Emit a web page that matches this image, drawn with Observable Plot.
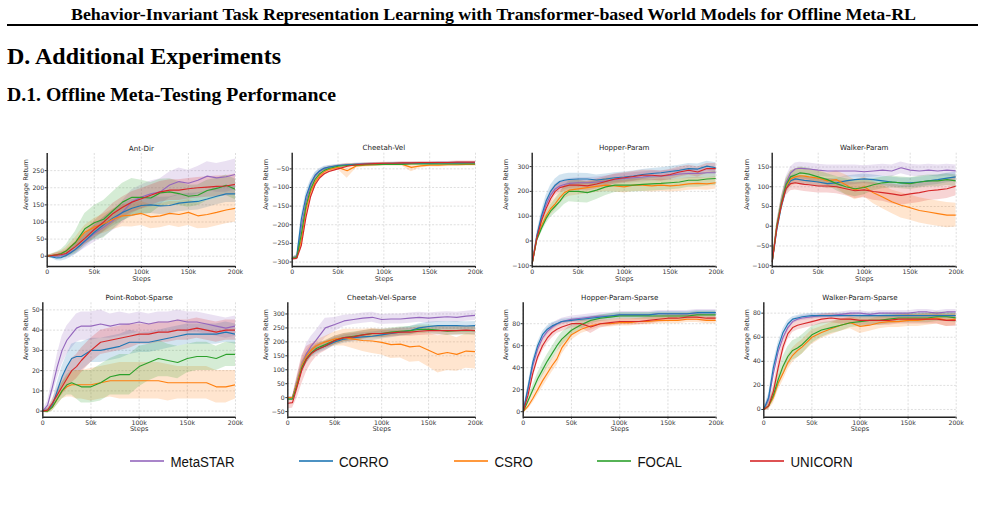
<!DOCTYPE html>
<html><head><meta charset="utf-8">
<script src="https://cdn.jsdelivr.net/npm/d3@7"></script>
<script src="https://cdn.jsdelivr.net/npm/@observablehq/plot@0.6"></script>
<style>
html,body{margin:0;padding:0;background:#fff;}
body{width:985px;height:505px;position:relative;overflow:hidden;}
.t{position:absolute;white-space:nowrap;color:#000;font-family:"Liberation Serif","Times New Roman",serif;font-weight:bold;transform-origin:0 0;}
#hdr{font-size:16px;line-height:16px;}
#rule{position:absolute;left:7px;width:971px;top:24.3px;height:2px;background:#000;}
#h1{font-size:22.5px;line-height:22.5px;}
#h2{font-size:18.5px;line-height:18.5px;}
.pan{position:absolute;}
.pan svg{overflow:visible;}
.lg{position:absolute;font-family:"Liberation Sans",Arial,sans-serif;font-size:13.3px;line-height:13.3px;color:#111;white-space:nowrap;transform-origin:0 50%;transform:scaleY(1.12);}
.sw{position:absolute;height:2.6px;width:34px;opacity:0.8;}
</style></head>
<body>
<div id="hdr" class="t">Behavior-Invariant Task Representation Learning with Transformer-based World Models for Offline Meta-RL</div>
<div id="rule"></div>
<div id="h1" class="t">D. Additional Experiments</div>
<div id="h2" class="t">D.1. Offline Meta-Testing Performance</div>
<div id="panels"></div>
<div id="legend"></div>
<script>
// ---------- data ----------
const steps = [0,5,10,15,20,25,30,35,40,50,60,70,80,90,100,110,120,130,140,150,160,170,180,190,200]; // thousands
const methods = ["MetaSTAR","CORRO","CSRO","FOCAL","UNICORN"];
const colors = ["#9467bd","#1f77b4","#ff7f0e","#2ca02c","#d62728"];
const titles = ["Ant-Dir","Cheetah-Vel","Hopper-Param","Walker-Param","Point-Robot-Sparse","Cheetah-Vel-Sparse","Hopper-Param-Sparse","Walker-Param-Sparse"];
const xTicks = [0,50,100,150,200];
const yTicks = [
  [0,50,100,150,200,250],
  [-300,-250,-200,-150,-100,-50],
  [-100,0,100,200,300],
  [-100,-50,0,50,100,150],
  [0,10,20,30,40,50],
  [-50,0,50,100,150,200,250,300],
  [0,20,40,60,80],
  [0,20,40,60,80]
];
const yDomains = [[-30,300],[-312,-8],[-103,354],[-102,185],[-3,53.5],[-70,340],[-5,99],[-6.4,88.6]];

// mean returns, rows in order MetaSTAR, CORRO, CSRO, FOCAL, UNICORN
const antDirMean = [
  [0,0,0,2,5,12,20,32,43,66,85,105,129,159,173,182,188,208,218,213,222,234,229,232,239],
  [0,-2,-5,-4,2,10,20,32,45,70,92,112,128,140,148,150,147,148,155,158,160,167,175,182,182],
  [0,2,4,8,15,28,40,55,70,85,95,108,118,120,125,115,118,125,122,128,118,122,128,135,140],
  [0,2,4,8,15,28,40,60,80,98,108,133,158,172,172,170,185,188,183,175,178,192,198,207,195],
  [0,2,4,5,8,18,28,40,52,78,100,125,143,158,168,178,188,193,193,197,200,202,204,205,210]
];
const antDirSpread = [
  [2,3,5,8,10,12,15,18,20,25,28,30,32,35,35,38,38,38,40,38,40,42,42,45,45],
  [3,5,8,10,12,14,15,17,18,20,22,24,25,25,25,25,25,25,25,25,25,25,25,25,25],
  [3,4,6,8,10,12,15,18,20,25,28,30,32,35,35,35,35,35,38,38,38,40,40,40,40],
  [3,5,8,12,18,25,32,40,45,50,55,55,55,55,50,45,40,38,35,32,30,30,30,30,30],
  [3,4,6,8,10,12,15,18,20,25,28,30,30,30,30,30,30,30,30,30,30,30,30,30,30]
];
const cheetahVelMean = [
  [-290,-287,-205,-138,-95,-70,-57,-50,-46,-41,-39,-38,-37,-36,-36,-36,-35,-35,-35,-35,-34,-34,-34,-34,-34],
  [-290,-285,-185,-125,-90,-67,-55,-48,-45,-41,-39,-38,-37,-36,-36,-35,-35,-35,-35,-35,-34,-34,-34,-34,-34],
  [-290,-288,-240,-160,-112,-85,-68,-58,-52,-46,-55,-42,-40,-39,-38,-38,-38,-46,-42,-40,-40,-39,-39,-38,-38],
  [-290,-288,-225,-150,-105,-78,-63,-54,-49,-43,-41,-40,-39,-39,-38,-38,-38,-37,-37,-37,-37,-37,-37,-37,-37],
  [-292,-290,-255,-180,-125,-92,-74,-63,-57,-50,-43,-39,-37,-36,-35,-35,-34,-34,-33,-33,-33,-33,-32,-32,-32]
];
const cheetahVelSpread = [
  [3,5,12,12,10,8,6,5,4,3,3,3,3,3,3,3,3,3,3,3,3,3,3,3,3],
  [3,5,12,12,10,8,6,5,4,3,3,3,3,3,3,3,3,3,3,3,3,3,3,3,3],
  [3,6,20,20,18,15,12,10,8,6,20,6,5,5,5,5,5,12,6,5,5,5,5,5,5],
  [3,5,12,12,10,8,6,5,4,3,3,3,3,3,3,3,3,3,3,3,3,3,3,3,3],
  [3,5,12,12,10,8,6,5,4,3,3,3,3,3,3,3,3,3,3,3,3,3,3,3,3]
];
const hopperParamMean = [
  [-90,15,90,145,185,210,222,228,232,235,235,238,242,248,252,255,258,262,262,265,270,272,272,275,275],
  [-90,20,100,160,200,225,240,245,248,250,250,246,250,255,258,262,268,272,275,280,285,292,290,302,295],
  [-90,10,60,100,130,150,175,195,205,210,215,220,225,222,218,225,225,222,225,222,225,230,232,230,235],
  [-90,5,50,90,120,140,160,185,200,200,195,205,218,225,225,225,228,230,232,235,238,245,245,250,252],
  [-90,10,80,130,170,200,215,220,225,225,222,230,240,250,255,260,265,265,262,268,278,285,278,292,292]
];
const hopperParamSpread = [
  [5,10,15,18,20,20,20,20,20,20,20,20,20,20,20,20,20,20,20,20,20,20,20,20,20],
  [5,12,18,22,25,25,25,25,25,23,22,20,20,20,20,20,20,20,20,20,20,20,20,20,20],
  [5,12,18,22,25,25,25,25,25,25,25,25,25,25,25,25,25,25,25,25,25,25,25,25,25],
  [5,12,18,22,25,28,32,38,42,45,42,38,35,30,28,28,28,28,28,28,28,28,28,28,28],
  [5,10,15,18,20,20,20,20,20,20,20,20,20,20,20,20,20,20,20,20,20,20,20,20,20]
];
const walkerParamMean = [
  [-90,0,60,110,135,145,147,146,145,142,140,140,140,140,138,140,142,140,148,142,140,142,140,142,140],
  [-90,-10,50,95,115,120,118,116,115,112,108,110,115,118,120,118,115,112,110,110,112,115,118,122,125],
  [-90,0,55,100,120,125,128,127,125,122,115,118,105,92,100,85,74,62,53,47,40,36,32,28,28],
  [-90,0,60,105,125,130,135,134,132,125,118,108,100,95,98,105,110,112,110,108,112,115,115,118,115],
  [-90,-5,55,95,108,110,108,106,105,102,102,100,95,90,92,88,85,82,78,82,85,90,92,95,102]
];
const walkerParamSpread = [
  [5,10,15,15,15,15,15,15,15,15,15,15,15,15,15,15,15,15,15,15,15,15,15,15,15],
  [5,10,12,12,12,12,12,12,12,12,12,12,12,12,12,12,12,12,12,12,12,12,12,12,12],
  [5,10,15,18,20,20,20,20,20,20,20,22,25,25,25,28,30,30,32,32,32,32,32,32,30],
  [5,10,15,15,15,15,15,15,15,15,15,18,20,20,18,15,15,15,15,15,15,15,15,15,15],
  [5,10,15,18,18,18,18,18,18,18,18,18,18,20,20,22,22,25,25,25,25,25,25,25,25]
];
const pointRobotMean = [
  [0,3,12,22,30,35,38,41,42,42,43,42,43,43,44,43,44,44,45,44,44,43,42,41,42],
  [0,0.5,3,10,17,22,26,27,27,30,30,31,32,34,34,34,35,36,37,38,38,38,38,39,38],
  [0,0,2,6,10,12,13,13,13,13,14,15,15,15,15,15,15,14,14,14,14,14,12,12,13],
  [0,0,2,6,10,13,14,13,12,12,14,17,18,18,22,24,26,25,24,26,27,27,26,28,28],
  [0,0.5,4,8,12,16,20,22,25,30,34,35,36,37,38,38,39,39,40,40,41,40,39,40,40]
];
const pointRobotSpread = [
  [0.5,2,4,6,7,7,7,7,7,7,7,6,6,5,5,5,5,5,5,5,5,5,5,5,5],
  [0.5,1,2,4,5,6,7,7,7,6,6,6,6,6,5,5,5,5,5,5,5,5,5,5,5],
  [0.5,1,2,3,4,5,6,7,7,8,8,8,9,9,9,9,9,9,8,8,8,8,8,8,7],
  [0.5,1,2,3,4,5,6,7,8,8,9,9,10,10,10,9,9,8,8,7,7,7,6,6,6],
  [0.5,1,2,3,4,5,6,6,6,6,6,6,6,6,5,5,5,5,5,5,5,5,5,5,5]
];
const cheetahSparseMean = [
  [0,0,55,115,158,185,205,228,250,262,275,280,285,288,280,282,282,285,288,285,288,290,288,292,295],
  [0,0,55,110,140,160,170,178,185,200,210,215,218,220,225,230,235,240,250,255,258,258,258,257,258],
  [0,0,55,115,150,170,185,193,200,210,215,210,205,203,198,190,192,182,185,170,155,162,155,167,165],
  [-5,-5,45,108,140,160,175,183,190,205,215,220,225,230,230,235,238,240,245,245,242,238,240,240,240],
  [-20,-18,40,100,138,158,170,178,185,205,215,218,225,230,230,232,235,235,238,240,240,240,240,242,240]
];
const cheetahSparseSpread = [
  [2,2,20,30,35,35,35,35,35,25,20,18,18,18,18,18,18,18,18,18,18,18,18,18,18],
  [2,2,15,18,18,15,15,15,15,15,15,15,15,15,15,15,15,15,15,15,15,15,15,15,15],
  [2,2,15,20,20,20,20,20,20,25,30,35,40,45,45,50,50,55,55,60,67,65,60,62,62],
  [5,5,15,18,18,15,15,15,15,15,15,15,15,15,15,15,15,15,15,15,15,15,15,15,15],
  [20,20,40,50,45,35,25,20,18,15,15,15,15,15,15,15,15,15,15,15,15,15,15,15,15]
];
const hopperSparseMean = [
  [0,20,42,57,67,73,77,80,82,84,85,86,87,87,88,88,88,88,89,89,89,89,90,90,90],
  [0,22,45,60,70,75,78,80,82,83,84,85,86,87,88,88,88,88,89,89,89,89,90,90,90],
  [0,5,12,20,28,35,42,48,58,70,75,78,80,80,81,81,82,82,83,83,83,84,84,83,83],
  [0,10,20,30,38,46,53,60,66,74,79,83,85,86,87,87,87,87,87,87,87,87,88,88,88],
  [0,15,35,50,60,67,72,75,77,80,80,77,80,81,82,82,82,83,84,85,85,86,86,85,85]
];
const hopperSparseSpread = [
  [1,3,3,3,3,3,3,3,3,3,3,3,3,3,3,3,3,3,3,3,3,3,3,3,3],
  [1,3,3,3,3,3,3,2,2,2,2,2,2,2,2,2,2,2,2,2,2,2,2,2,2],
  [1,3,4,5,6,6,6,6,6,5,4,4,3,3,3,3,3,3,3,3,3,3,3,3,3],
  [1,3,4,5,6,6,6,6,6,5,4,3,3,3,3,3,3,3,3,3,3,3,3,3,3],
  [1,4,5,5,5,5,5,4,4,4,4,6,4,3,3,3,3,3,3,3,3,3,3,3,3]
];
const walkerSparseMean = [
  [0,8,30,48,60,68,73,75,76,77,78,78,79,80,80,79,80,80,80,80,81,81,80,81,81],
  [0,10,35,52,64,71,75,76,77,78,78,78,78,78,78,78,78,78,78,78,78,78,78,78,78],
  [0,3,10,22,30,39,45,49,52,60,64,67,70,72,69,70,72,73,73,74,74,75,76,74,75],
  [0,3,12,25,36,44,49,51,54,62,66,68,70,72,73,74,74,75,76,76,76,76,77,77,76],
  [0,3,15,35,52,63,68,70,71,73,75,76,75,75,74,74,74,74,75,75,75,75,75,74,74]
];
const walkerSparseSpread = [
  [1,3,4,4,3,3,2,2,2,2,2,2,2,2,2,2,2,2,2,2,2,2,2,2,2],
  [1,3,4,4,3,3,2,2,2,2,2,2,2,2,2,2,2,2,2,2,2,2,2,2,2],
  [1,3,5,6,6,6,6,6,6,6,5,5,5,5,6,5,5,5,5,5,5,5,5,5,5],
  [1,3,5,7,8,8,8,8,8,7,6,5,5,4,4,4,4,4,4,4,4,4,4,4,4],
  [1,3,5,6,6,5,4,4,4,4,4,4,4,4,4,4,4,4,4,4,4,4,4,5,5]
];
const allMeans = [antDirMean,cheetahVelMean,hopperParamMean,walkerParamMean,pointRobotMean,cheetahSparseMean,hopperSparseMean,walkerSparseMean];
const allSpreads = [antDirSpread,cheetahVelSpread,hopperParamSpread,walkerParamSpread,pointRobotSpread,cheetahSparseSpread,hopperSparseSpread,walkerSparseSpread];

// ---------- page text layout ----------
function fit(id, left, width, baseline, size) {
  const el = document.getElementById(id);
  el.style.left = left + "px";
  el.style.top = (baseline - 0.8375 * size) + "px";
  const w = el.getBoundingClientRect().width;
  el.style.transform = "scaleX(" + (width / w) + ")";
}
fit("hdr", 70.5, 845, 20, 16);
fit("h1", 7, 274, 64.5, 22.5);
fit("h2", 7, 329, 101.5, 18.5);

// ---------- layout (page pixels of each plot frame) ----------
const frames = [
  {l:46.7,r:235,t:153,b:266,yl:-21},
  {l:291.7,r:475,t:152.7,b:266,yl:-26},
  {l:531.7,r:715.7,t:152.7,b:266,yl:-26},
  {l:771.7,r:955.7,t:152.7,b:266,yl:-25.7},
  {l:42.3,r:235,t:302.3,b:416.7,yl:-16.6},
  {l:287.3,r:475,t:302.3,b:416.7,yl:-21.6},
  {l:522.7,r:715.7,t:302.3,b:416.7,yl:-17},
  {l:763.3,r:955.7,t:302.3,b:416.7,yl:-17.3}
];

const fmtX = d => d === 0 ? "0" : d + "k";
const container = document.getElementById("panels");

frames.forEach((f, i) => {
  const col = i % 4, row = Math.floor(i / 4);
  const sl = 240 * col, st = row === 0 ? 135 : 285;
  const rows = [];
  methods.forEach((m, j) => {
    steps.forEach((s, k) => {
      const v = allMeans[i][j][k], e = allSpreads[i][j][k];
      rows.push({step: s, method: m, mean: v, lo: v - e, hi: v + e});
    });
  });
  const dom = yDomains[i];
  const plot = Plot.plot({
    width: 240,
    height: f.b - st + 18,
    marginLeft: f.l - sl,
    marginRight: sl + 240 - f.r,
    marginTop: f.t - st,
    marginBottom: 18,
    style: {background: "transparent", overflow: "visible", fontFamily: "'DejaVu Sans', sans-serif", fontSize: "6.2px", color: "#333"},
    x: {domain: [0, 200]},
    y: {domain: dom},
    color: {domain: methods, range: colors},
    marks: [
      Plot.gridX(xTicks, {stroke: "#c8c8c8", strokeOpacity: 1, strokeWidth: 0.6, strokeDasharray: "2,1.6"}),
      Plot.gridY(yTicks[i], {stroke: "#c8c8c8", strokeOpacity: 1, strokeWidth: 0.6, strokeDasharray: "2,1.6"}),
      Plot.areaY(rows, {x: "step", y1: "lo", y2: "hi", z: "method", fill: "method", fillOpacity: 0.2, clip: true, curve: "linear"}),
      Plot.lineY(rows, {x: "step", y: "mean", z: "method", stroke: "method", strokeWidth: 1.15, clip: true}),
      Plot.axisX(xTicks, {tickFormat: fmtX, tickSize: 2, tickPadding: 1.5, label: null, stroke: "#333", fill: "#333"}),
      Plot.axisY(yTicks[i], {tickSize: 2, tickPadding: 1, label: null, stroke: "#333", fill: "#333"}),
      Plot.ruleY([dom[0]], {stroke: "#222", strokeWidth: 1.4}),
      Plot.ruleX([0], {stroke: "#222", strokeWidth: 1.4}),
      Plot.text([titles[i]], {text: d => d, frameAnchor: "top", dy: -8, fontSize: 7.1, fill: "#222"}),
      Plot.text(["Average Return"], {text: d => d, frameAnchor: "left", dx: f.yl, rotate: -90, fontSize: 6.6, fill: "#333"}),
      Plot.text(["Steps"], {text: d => d, frameAnchor: "bottom", dy: 14, fontSize: 6.6, fill: "#333"})
    ]
  });
  const div = document.createElement("div");
  div.className = "pan";
  div.style.left = sl + "px";
  div.style.top = st + "px";
  div.appendChild(plot);
  container.appendChild(div);
});

// ---------- legend ----------
const lgX = [130, 298.5, 454, 597, 750];
const lg = document.getElementById("legend");
methods.forEach((m, j) => {
  const s = document.createElement("div");
  s.className = "sw";
  s.style.left = lgX[j] + "px";
  s.style.top = "459.5px";
  s.style.background = colors[j];
  lg.appendChild(s);
  const t = document.createElement("div");
  t.className = "lg";
  t.style.left = (lgX[j] + 40.5) + "px";
  t.style.top = "454.5px";
  t.textContent = m;
  lg.appendChild(t);
});
</script>
</body></html>
